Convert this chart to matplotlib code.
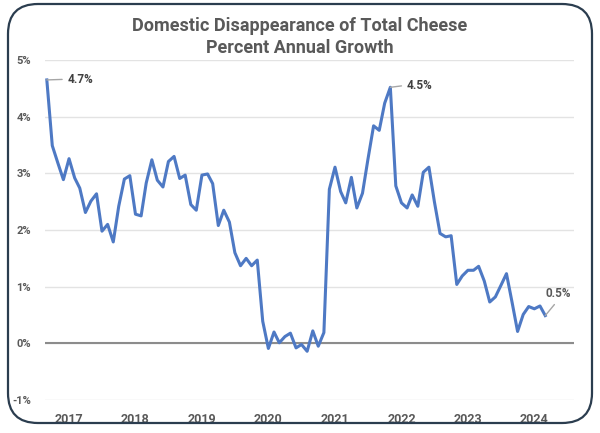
import matplotlib
matplotlib.use("Agg")
import matplotlib.pyplot as plt
import matplotlib.dates as mdates
from matplotlib.patches import FancyBboxPatch
from matplotlib.ticker import FuncFormatter
import pandas as pd

plt.rcParams['font.family'] = ['Roboto', 'DejaVu Sans']

# monthly % annual growth, Sep 2016 .. Mar 2024
start_month = "2016-09-01"
growth = [
    4.65, 3.49, 3.18, 2.89, 3.26, 2.92, 2.74, 2.31, 2.51, 2.64, 1.98, 2.10,
    1.79, 2.42, 2.90, 2.96, 2.28, 2.25, 2.83, 3.24, 2.88, 2.76, 3.21, 3.30,
    2.91, 2.97, 2.45, 2.35, 2.97, 2.99, 2.82, 2.08, 2.35, 2.14, 1.60, 1.37,
    1.50, 1.37, 1.47, 0.39, -0.09, 0.20, 0.01, 0.12, 0.18, -0.08, -0.02, -0.14,
    0.22, -0.05, 0.19, 2.72, 3.11, 2.68, 2.48, 2.93, 2.39, 2.65, 3.25, 3.84,
    3.76, 4.24, 4.52, 2.78, 2.48, 2.39, 2.62, 2.42, 3.02, 3.11, 2.50, 1.94,
    1.88, 1.90, 1.04, 1.19, 1.29, 1.29, 1.36, 1.10, 0.73, 0.82, 1.02, 1.23,
    0.72, 0.21, 0.51, 0.65, 0.61, 0.66, 0.49,
]
months = pd.date_range(start_month, periods=len(growth), freq="MS")
years = list(range(2017, 2025))
y_ticks = [-1, 0, 1, 2, 3, 4, 5]

# labelled points: (index into growth, text)
callouts = [(0, "4.7%"), (62, "4.5%"), (90, "0.5%")]

title = "Domestic Disappearance of Total Cheese\nPercent Annual Growth"
grey = "#595959"

fig = plt.figure(figsize=(6.0, 4.33), dpi=100)
ax = fig.add_axes([0.075, 0.0762, 0.882, 0.785])

ax.set_ylim(-1, 5)
ax.set_xlim(pd.Timestamp("2016-08-22"), pd.Timestamp("2024-08-07"))
ax.set_yticks(y_ticks)
ax.yaxis.set_major_formatter(FuncFormatter(lambda v, p: f"{v:.0f}%"))
ax.set_xticks([pd.Timestamp(f"{y}-01-01") for y in years])
ax.xaxis.set_major_formatter(mdates.DateFormatter("%Y"))

ax.grid(axis="y", color="#e3e3e3", lw=1.0)
ax.set_axisbelow(True)
for s in ax.spines.values():
    s.set_visible(False)
ax.tick_params(length=0, labelsize=8, labelcolor=grey, pad=10)
ax.tick_params(axis="x", labelsize=9, pad=9)
for lab in ax.get_xticklabels() + ax.get_yticklabels():
    lab.set_fontweight("bold")

ax.axhline(0, color="#8c8c8c", lw=1.5, zorder=1)
ax.plot(months, growth, color="#4e79c4", lw=2.2, zorder=3)

# callouts with leader lines
place = {0: ((15, 0.5), "left", "center", (0, 0.5), "#404040"),
         62: ((12, 1.5), "left", "center", (0, 0.5), "#404040"),
         90: ((9.5, 11.5), "center", "bottom", (0.5, 0), grey)}
for i, txt in callouts:
    off, ha, va, rel, col = place[i]
    ax.annotate(txt, (months[i], growth[i]), xytext=off,
                textcoords="offset points", fontsize=8.5, fontweight="bold",
                color=col, ha=ha, va=va,
                arrowprops=dict(arrowstyle="-", color="#a6a6a6", lw=1.0,
                                shrinkA=2, shrinkB=0, relpos=rel))

fig.text(0.5, 0.915, title, ha="center", va="center", fontsize=13,
         fontweight="bold", color=grey, linespacing=1.3)

# rounded frame around the chart
frame = FancyBboxPatch((0.08, 0.10), 5.84, 4.19,
                       boxstyle="round,pad=0,rounding_size=0.3",
                       transform=fig.dpi_scale_trans, fill=False,
                       edgecolor="#2b3d4f", lw=1.6)
fig.patches.append(frame)

fig.savefig("out.png", dpi=100)
